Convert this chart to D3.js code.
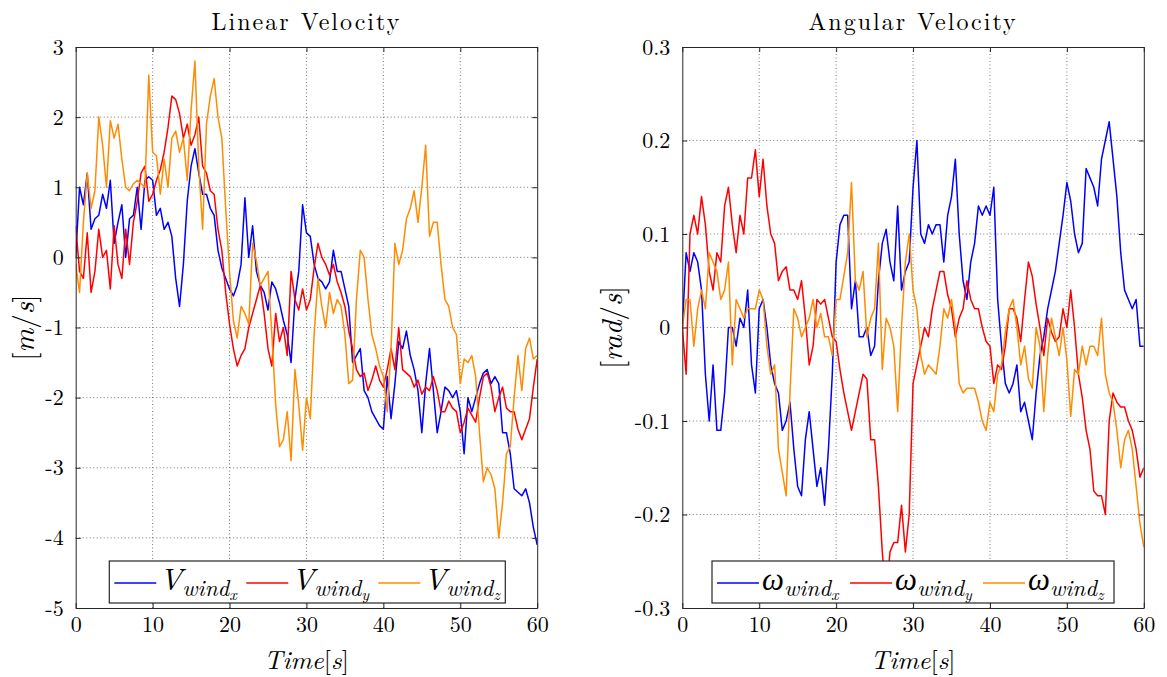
<!DOCTYPE html>
<html>
<head>
<meta charset="utf-8">
<script src="https://cdn.jsdelivr.net/npm/d3@7"></script>
<style>
  body { margin: 0; background: #fff; }
  svg text { font-family: "Latin Modern Roman", "Liberation Serif", "DejaVu Serif", serif; fill: #000; }
</style>
</head>
<body>
<svg id="chart" width="1167" height="677"></svg>
<script>
// sample grid (seconds), one value every 0.5 s
const timeS = d3.range(0, 60.5, 0.5);

// linear wind velocity [m/s]
const vWindX = [
  0.0, 1.0, 0.75, 1.2, 0.4, 0.55, 0.6, 0.9, 0.7, 1.1,
  0.2, 0.5, 0.75, 0.0, 0.55, 0.6, 1.0, 0.4, 1.1, 1.15,
  1.1, 0.6, 0.7, 0.4, 0.5, 0.3, -0.3, -0.7, -0.1, 0.8,
  1.3, 1.55, 1.2, 0.9, 0.9, 0.7, 0.6, 0.1, -0.15, -0.3,
  -0.45, -0.55, -0.4, -0.1, 0.85, 0.0, 0.45, -0.2, -0.4, -0.5,
  -0.75, -0.35, -0.45, -0.65, -0.9, -1.1, -1.5, -0.6, -0.2, 0.75,
  0.35, 0.3, -0.1, -0.3, -0.35, -0.45, -0.35, 0.1, -0.2, -0.2,
  -0.45, -0.7, -1.5, -1.4, -1.3, -1.9, -2.0, -2.2, -2.3, -2.4,
  -2.45, -1.7, -2.3, -1.8, -1.2, -1.3, -1.05, -1.4, -1.6, -1.9,
  -2.5, -1.8, -1.3, -1.9, -2.5, -2.2, -1.85, -1.9, -2.0, -1.9,
  -2.2, -2.8, -2.0, -2.2, -2.0, -1.8, -1.65, -1.6, -1.8, -1.7,
  -1.8, -2.5, -2.5, -2.8, -3.3, -3.35, -3.4, -3.3, -3.5, -3.85,
  -4.1
];
const vWindY = [
  0.45, -0.2, -0.3, 0.35, -0.5, -0.2, 0.4, 0.0, 0.1, -0.45,
  0.45, -0.1, -0.3, 0.4, -0.1, 0.5, 0.8, 1.2, 1.3, 0.8,
  0.9, 1.1, 1.25, 1.5, 1.85, 2.3, 2.25, 2.05, 1.7, 1.9,
  1.6, 1.75, 2.0, 1.3, 1.2, 0.95, 0.9, 0.4, 0.1, -0.5,
  -0.95, -1.3, -1.55, -1.4, -1.3, -1.0, -0.8, -0.6, -0.4, -0.8,
  -1.3, -1.55, -0.8, -1.2, -1.0, -1.4, -0.2, -0.6, -0.75, -0.45,
  -0.75, -0.6, -0.15, 0.2, 0.0, -0.1, -0.25, -0.1, -0.35, -0.5,
  -0.7, -1.05, -1.3, -1.6, -1.7, -1.65, -1.9, -1.75, -1.55, -1.75,
  -1.85, -1.6, -1.3, -1.6, -1.0, -1.6, -1.65, -1.7, -1.85, -1.75,
  -1.95, -1.85, -1.9, -1.7, -1.9, -2.2, -2.2, -2.05, -2.15, -2.2,
  -2.5, -2.35, -2.15, -2.25, -2.35, -2.0, -1.7, -1.65, -1.85, -2.2,
  -2.0, -1.85, -2.15, -2.2, -2.2, -2.45, -2.6, -2.45, -2.3, -1.85,
  -1.45
];
const vWindZ = [
  -0.1, -0.5, 0.5, 1.2, 0.7, 0.95, 2.0, 1.6, 1.0, 1.95,
  1.7, 1.9, 1.4, 1.0, 0.95, 1.05, 1.1, 1.05, 1.0, 2.6,
  1.5, 1.45, 0.9, 1.4, 1.0, 1.7, 1.8, 1.5, 1.7, 1.1,
  2.1, 2.8, 1.3, 0.4, 1.9, 2.3, 2.55, 2.0, 1.7, 0.7,
  -0.2, -0.9, -1.15, -0.7, -0.8, -0.95, 0.2, -0.05, -0.4, -0.3,
  -0.2, -1.1, -2.1, -2.7, -2.6, -2.2, -2.9, -1.6, -2.1, -2.75,
  -2.0, -2.3, -1.1, -0.3, -0.7, -1.0, -0.5, -0.8, -0.6, -0.7,
  -1.1, -1.8, -1.75, -0.6, 0.1, 0.0, -0.6, -1.1, -1.3, -1.55,
  -1.7, -2.2, -1.3, 0.2, -0.1, 0.1, 0.55, 0.7, 0.95, 0.5,
  1.0, 1.6, 0.3, 0.5, 0.5, -0.1, -0.6, -0.7, -1.0, -1.1,
  -1.8, -1.45, -1.5, -1.4, -1.7, -2.5, -3.2, -3.0, -3.1, -3.3,
  -4.0, -3.5, -2.8, -2.7, -2.0, -1.4, -1.9, -1.3, -1.15, -1.45,
  -1.4
];

// angular wind velocity [rad/s]
const omegaX = [
  0.0, 0.08, 0.06, 0.08, 0.07, 0.04, -0.05, -0.1, -0.04, -0.11,
  -0.11, -0.07, 0.0, 0.0, -0.02, 0.01, 0.0, 0.04, -0.04, -0.07,
  0.02, 0.03, 0.0, -0.04, -0.06, -0.07, -0.11, -0.1, -0.08, -0.13,
  -0.17, -0.18, -0.12, -0.09, -0.13, -0.17, -0.15, -0.19, -0.13, -0.05,
  0.07, 0.11, 0.12, 0.12, 0.02, 0.05, -0.01, -0.01, 0.0, -0.03,
  -0.02, 0.05, 0.09, 0.105, 0.07, 0.05, 0.13, 0.04, 0.06, 0.07,
  0.15, 0.2, 0.1, 0.09, 0.11, 0.1, 0.11, 0.11, 0.07, 0.12,
  0.14, 0.18, 0.1, 0.05, 0.03, 0.07, 0.09, 0.13, 0.12, 0.13,
  0.12, 0.15, 0.03, -0.02, -0.06, -0.07, -0.06, -0.04, -0.09, -0.08,
  -0.1, -0.12, -0.07, -0.03, -0.01, 0.02, 0.04, 0.06, 0.09, 0.12,
  0.155, 0.135, 0.1, 0.08, 0.09, 0.17, 0.16, 0.15, 0.13, 0.18,
  0.2, 0.22, 0.18, 0.14, 0.08, 0.04, 0.03, 0.02, 0.03, -0.02,
  -0.02
];
const omegaY = [
  0.0, -0.05, 0.1, 0.12, 0.1, 0.14, 0.11, 0.06, 0.04, 0.08,
  0.07, 0.13, 0.15, 0.11, 0.08, 0.12, 0.1, 0.16, 0.16, 0.19,
  0.14, 0.18, 0.13, 0.1, 0.09, 0.05, 0.06, 0.065, 0.04, 0.04,
  0.03, 0.05, 0.01, -0.04, -0.02, 0.03, 0.025, 0.03, 0.01, -0.01,
  -0.015, -0.045, -0.07, -0.09, -0.11, -0.09, -0.07, -0.05, -0.055, -0.12,
  -0.12, -0.17, -0.24, -0.29, -0.24, -0.23, -0.23, -0.19, -0.24, -0.2,
  -0.06, -0.04, -0.02, 0.0, -0.01, 0.02, 0.04, 0.06, 0.06, 0.035,
  0.02, -0.01, 0.01, 0.02, 0.05, 0.03, 0.02, 0.02, 0.0, -0.015,
  -0.02, -0.06, -0.04, -0.045, -0.02, 0.02, 0.02, 0.01, -0.015, 0.03,
  0.07, 0.055, 0.025, 0.0, -0.03, 0.01, -0.005, -0.015, -0.01, 0.02,
  0.0, 0.04, 0.0, -0.05, -0.075, -0.11, -0.13, -0.175, -0.18, -0.18,
  -0.2, -0.1, -0.07, -0.08, -0.085, -0.085, -0.1, -0.11, -0.13, -0.16,
  -0.15
];
const omegaZ = [
  0.0, 0.03, 0.03, -0.02, 0.02, 0.04, 0.02, 0.08, 0.07, 0.06,
  0.03, 0.04, 0.07, -0.04, 0.03, 0.02, 0.01, 0.02, 0.02, 0.02,
  0.04, 0.03, -0.02, -0.05, -0.04, -0.13, -0.155, -0.18, -0.07, 0.02,
  0.01, -0.01, 0.0, 0.01, 0.03, 0.0, 0.015, -0.01, -0.01, -0.03,
  0.03, 0.03, 0.055, 0.08, 0.155, 0.05, 0.04, 0.06, -0.01, 0.01,
  0.02, 0.09, -0.045, 0.01, 0.0, -0.02, -0.09, 0.0, 0.07, 0.1,
  0.04, 0.02, -0.03, -0.05, -0.04, -0.045, -0.05, -0.02, 0.02, 0.01,
  0.03, 0.0, -0.06, -0.07, -0.065, -0.065, -0.065, -0.08, -0.1, -0.11,
  -0.08, -0.09, -0.05, -0.04, -0.005, 0.02, 0.03, 0.0, -0.04, -0.02,
  -0.055, -0.065, 0.0, -0.02, -0.09, -0.03, 0.01, -0.01, -0.03, 0.0,
  -0.035, -0.095, -0.045, -0.05, -0.02, -0.04, -0.02, -0.02, -0.03, 0.01,
  -0.05, -0.07, -0.08, -0.11, -0.15, -0.12, -0.11, -0.13, -0.17, -0.21,
  -0.235
];

const xTicks = [0, 10, 20, 30, 40, 50, 60];
const linTicks = [-5, -4, -3, -2, -1, 0, 1, 2, 3];
const angTicks = [-0.3, -0.2, -0.1, 0, 0.1, 0.2, 0.3];
const seriesColors = ["#0000ff", "#ff0000", "#ff8c00"];
const subs = ["x", "y", "z"];

const panels = [
  { left: 75.7, title: "Linear Velocity", domain: [-5, 3], ticks: linTicks,
    unit: "m", series: [vWindX, vWindY, vWindZ], sym: "V",
    legendX: 33.6, legendW: 396, entryGap: 132, ylabelX: 25 },
  { left: 682.3, title: "Angular Velocity", domain: [-0.3, 0.3], ticks: angTicks,
    unit: "rad", series: [omegaX, omegaY, omegaZ], sym: "\u03c9",
    legendX: 29.7, legendW: 402, entryGap: 133, ylabelX: 613 }
];

const plotTop = 47, plotH = 561, plotW = 461.5;
const svg = d3.select("#chart");

panels.forEach(function (p, pi) {
  var x = d3.scaleLinear().domain([0, 60]).range([0, plotW]);
  var y = d3.scaleLinear().domain(p.domain).range([plotH, 0]);
  var g = svg.append("g").attr("transform", "translate(" + p.left + "," + plotTop + ")");

  // dotted grid
  g.append("g").selectAll("line").data(xTicks.slice(1, -1)).enter().append("line")
    .attr("x1", d => x(d)).attr("x2", d => x(d)).attr("y1", 0).attr("y2", plotH)
    .attr("stroke", "#555").attr("stroke-width", 0.8).attr("stroke-dasharray", "1,2.5");
  g.append("g").selectAll("line").data(p.ticks.slice(1, -1)).enter().append("line")
    .attr("y1", d => y(d)).attr("y2", d => y(d)).attr("x1", 0).attr("x2", plotW)
    .attr("stroke", "#555").attr("stroke-width", 0.8).attr("stroke-dasharray", "1,2.5");

  // series
  var clipId = "clip" + pi;
  g.append("clipPath").attr("id", clipId).append("rect").attr("width", plotW).attr("height", plotH);
  var line = d3.line().x((d, i) => x(timeS[i])).y(d => y(d));
  p.series.forEach(function (s, si) {
    g.append("path").datum(s).attr("d", line)
      .attr("clip-path", "url(#" + clipId + ")")
      .attr("fill", "none").attr("stroke", seriesColors[si]).attr("stroke-width", 1.5)
      .attr("stroke-linejoin", "round");
  });

  // axes, ticks inside on all four sides
  var ax = [
    { gen: d3.axisBottom(x), tr: "translate(0," + plotH + ")", ticks: xTicks, lbl: true, pad: 8 },
    { gen: d3.axisTop(x), tr: "translate(0,0)", ticks: xTicks, lbl: false, pad: 8 },
    { gen: d3.axisLeft(y), tr: "translate(0,0)", ticks: p.ticks, lbl: true, pad: 12 },
    { gen: d3.axisRight(y), tr: "translate(" + plotW + ",0)", ticks: p.ticks, lbl: false, pad: 12 }
  ];
  ax.forEach(function (a) {
    var ag = g.append("g").attr("transform", a.tr)
      .call(a.gen.tickValues(a.ticks).tickSizeInner(-5).tickSizeOuter(0)
        .tickPadding(a.pad).tickFormat(a.lbl ? (d => String(d)) : ""));
    ag.select(".domain").attr("stroke", "#262626").attr("stroke-width", 1);
    ag.selectAll(".tick line").attr("stroke", "#262626");
    ag.selectAll("text").attr("font-size", 22).attr("font-family", null);
  });

  // legend
  var lg = g.append("g").attr("transform", "translate(" + p.legendX + "," + (561 - plotTop) + ")");
  lg.append("rect").attr("width", p.legendW).attr("height", 42)
    .attr("fill", "#fff").attr("stroke", "#262626").attr("stroke-width", 1.2);
  subs.forEach(function (sub, si) {
    var ex = 5 + si * p.entryGap;
    lg.append("line").attr("x1", ex).attr("x2", ex + 42).attr("y1", 22).attr("y2", 22)
      .attr("stroke", seriesColors[si]).attr("stroke-width", 1.5);
    var t = lg.append("text").attr("x", ex + 45).attr("y", 29).attr("font-style", "italic");
    t.append("tspan").attr("font-size", 31).text(p.sym);
    t.append("tspan").attr("font-size", 23).attr("dy", 6).text("wind");
    t.append("tspan").attr("font-size", 16).attr("dy", 4).text(sub);
  });

  // title
  svg.append("text").attr("x", p.left + plotW / 2).attr("y", 30)
    .attr("text-anchor", "middle").attr("font-size", 24).attr("letter-spacing", 2)
    .text(p.title);

  // x label
  var xl = svg.append("text").attr("x", p.left + plotW / 2).attr("y", 669)
    .attr("text-anchor", "middle").attr("font-size", 26);
  xl.append("tspan").attr("font-style", "italic").text("Time");
  xl.append("tspan").text("[");
  xl.append("tspan").attr("font-style", "italic").text("s");
  xl.append("tspan").text("]");

  // y label
  var yl = svg.append("text").attr("transform", "translate(" + (p.ylabelX + 9) + "," + (plotTop + plotH / 2) + ") rotate(-90)")
    .attr("text-anchor", "middle").attr("font-size", 29);
  yl.append("tspan").text("[");
  yl.append("tspan").attr("font-style", "italic").text(p.unit);
  yl.append("tspan").text("/");
  yl.append("tspan").attr("font-style", "italic").text("s");
  yl.append("tspan").text("]");
});
</script>
</body>
</html>
